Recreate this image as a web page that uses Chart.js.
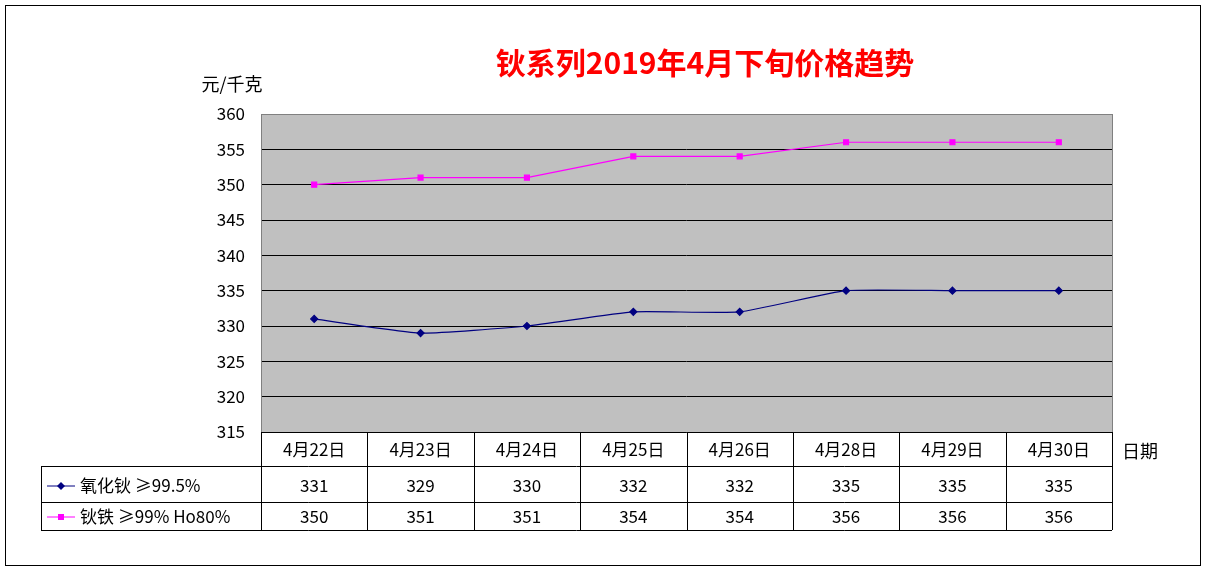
<!DOCTYPE html><html><head><meta charset="utf-8">
<script src="https://cdn.jsdelivr.net/npm/chart.js@4"></script>
<style>html,body{margin:0;padding:0;background:#fff}</style></head><body>
<canvas id="c" width="1206" height="571"></canvas>
<script>
const categories=['4月22日','4月23日','4月24日','4月25日','4月26日','4月28日','4月29日','4月30日'];
const holmiumOxide=[331,329,330,332,332,335,335,335];
const holmiumIron=[350,351,351,354,354,356,356,356];
const seriesNames=['氧化钬 ≥99.5%','钬铁 ≥99% Ho80%'];
const seriesColors=['#000080','#FF00FF'];
const seriesMarks=['rectRot','rect'];
const seriesData=[holmiumOxide,holmiumIron];
const FONT='"Noto Sans CJK SC","Liberation Serif",serif';

const deco={id:'deco',
beforeDraw(ch){const c=ch.ctx,a=ch.chartArea;c.save();c.fillStyle='#fff';c.fillRect(0,0,ch.width,ch.height);
c.strokeStyle='#000';c.lineWidth=1;c.strokeRect(5.5,5.5,1195,560);
c.fillStyle='#C0C0C0';c.fillRect(a.left,a.top,a.right-a.left,a.bottom-a.top);c.restore();},
afterDraw(ch){const c=ch.ctx,a=ch.chartArea,x=ch.scales.x;c.save();
c.strokeStyle='#808080';c.strokeRect(a.left+.5,a.top+.5,a.right-a.left,a.bottom-a.top);
c.fillStyle='#FF0000';c.font='bold 30px '+FONT;c.textAlign='center';c.textBaseline='middle';
c.fillText('钬系列2019年4月下旬价格趋势',705,63);
c.fillStyle='#000';c.font='18px '+FONT;c.fillText('元/千克',232,84);c.fillText('日期',1140,451);
const rows=[a.bottom,466,502,530],L=41;
c.strokeStyle='#000';c.lineWidth=1;c.beginPath();
c.moveTo(a.left,a.bottom+.5);c.lineTo(a.right,a.bottom+.5);
for(let i=1;i<4;i++){c.moveTo(L,rows[i]+.5);c.lineTo(a.right,rows[i]+.5);}
c.moveTo(L+.5,466);c.lineTo(L+.5,530);
const w=(a.right-a.left)/categories.length;
for(let i=0;i<=categories.length;i++){const xx=Math.round(a.left+i*w)+.5;c.moveTo(xx,a.bottom);c.lineTo(xx,530);}
c.stroke();
c.font='17px '+FONT;
categories.forEach((cat,i)=>{const cx=x.getPixelForValue(i);c.fillText(cat,cx,450);
c.fillText(String(holmiumOxide[i]),cx,486);c.fillText(String(holmiumIron[i]),cx,517);});
seriesNames.forEach((n,k)=>{const y=k?517:486;c.strokeStyle=seriesColors[k];c.fillStyle=seriesColors[k];
c.beginPath();c.moveTo(47,y);c.lineTo(75,y);c.stroke();
if(k){c.fillRect(58,y-3,6,6);}else{c.beginPath();c.moveTo(61,y-4);c.lineTo(65,y);c.lineTo(61,y+4);c.lineTo(57,y);c.closePath();c.fill();}
c.fillStyle='#000';c.textAlign='left';c.fillText(n,80,y);c.textAlign='center';});
c.restore();}};

new Chart(document.getElementById('c'),{type:'line',
data:{labels:categories,datasets:seriesData.map((d,k)=>({label:seriesNames[k],data:d,borderColor:seriesColors[k],backgroundColor:seriesColors[k],
borderWidth:1.2,pointStyle:seriesMarks[k],pointRadius:3.5,tension:k?0:0.15}))},
options:{responsive:false,animation:false,layout:{padding:{left:201,right:94,top:114,bottom:139}},
plugins:{legend:{display:false},tooltip:{enabled:false}},
scales:{x:{display:false,offset:true},
y:{min:315,max:360,afterFit(s){s.width=60;},ticks:{stepSize:5,color:'#000',font:{size:17,family:FONT},padding:16},
grid:{color:'#000',drawTicks:false},border:{display:false}}}},
plugins:[deco]});
</script></body></html>
